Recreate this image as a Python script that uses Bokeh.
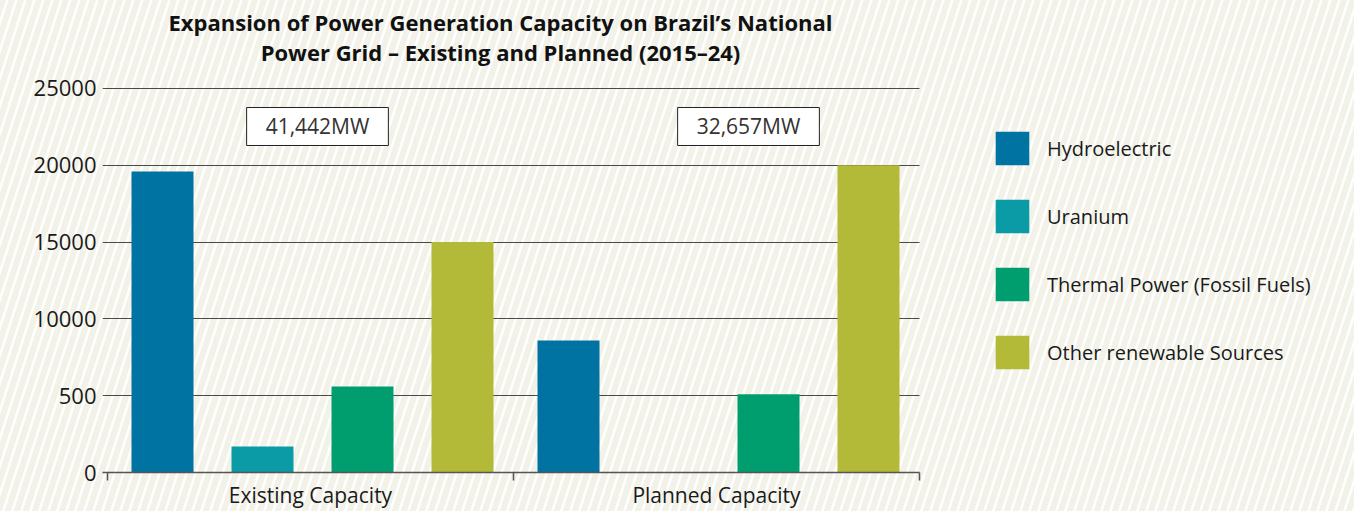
from bokeh.plotting import figure
from bokeh.models import Range1d, FixedTicker, Label, Legend, ColumnDataSource
from bokeh.embed import file_html
from bokeh.resources import INLINE

# ---- data ----
groups = ["Existing Capacity", "Planned Capacity"]
sources = ["Hydroelectric", "Uranium", "Thermal Power (Fossil Fuels)", "Other renewable Sources"]
hydro = [19600, 8600]
uranium = [1700, 0]
thermal = [5600, 5100]
other = [15000, 20000]
totals = ["41,442MW", "32,657MW"]
y_ticks = [0, 5000, 10000, 15000, 20000, 25000]
y_tick_labels = ["0", "500", "10000", "15000", "20000", "25000"]
colors = ["#0073A2", "#0A9BA7", "#009E6F", "#B3BA37"]
title_lines = ["Expansion of Power Generation Capacity on Brazil\u2019s National",
               "Power Grid \u2013 Existing and Planned (2015\u201324)"]

FONT = "Open Sans"
BG = "#F2F2E8"
GRID = "#4A4A4A"

# ---- layout helpers (units along x) ----
X0 = 0.05
GROUP_W = 4.06
BAR_OFF = 0.55
BAR_STEP = 1.0
BAR_W = 0.62
X_END = X0 + 2 * GROUP_W          # end of the plotted groups
X_MAX = 12.52                     # frame extends under the legend
Y_TOP = 30729                     # frame extends up under the title

p = figure(width=1354, height=511, output_backend="svg", toolbar_location=None,
           x_range=Range1d(0, X_MAX), y_range=Range1d(0, Y_TOP),
           min_border_left=102, min_border_top=0, min_border_bottom=39, min_border_right=0)
p.background_fill_alpha = 0
p.border_fill_alpha = 0
p.outline_line_color = None
p.styles = {
    "background-color": BG,
    "background-image": ("repeating-linear-gradient(108deg, "
                         "rgba(255,255,255,0) 0px, rgba(255,255,255,0) 5.4px, "
                         "rgba(255,255,255,0.95) 5.9px, rgba(255,255,255,0.95) 8.0px, "
                         "rgba(255,255,255,0) 8.56px)"),
}

# grid (limited to the bar area)
p.xgrid.grid_line_color = None
if hasattr(p.ygrid[0], "cross_bounds"):
    p.ygrid.ticker = FixedTicker(ticks=y_ticks[1:])
    p.ygrid.cross_bounds = (0, X_END)
    p.ygrid.grid_line_color = GRID
    p.ygrid.grid_line_width = 1.2
else:
    p.ygrid.grid_line_color = None
    gy = y_ticks[1:]
    p.segment(x0=[0] * len(gy), x1=[X_END] * len(gy), y0=gy, y1=gy,
              line_color=GRID, line_width=1.2, level="underlay")

# bars
series = [hydro, uranium, thermal, other]
renderers = []
for i, (name, vals, col) in enumerate(zip(sources, series, colors)):
    xs = [X0 + g * GROUP_W + BAR_OFF + i * BAR_STEP for g in range(len(groups))]
    src = ColumnDataSource(dict(x=xs, top=vals))
    r = p.vbar(x="x", top="top", width=BAR_W, source=src, fill_color=col, line_color=None)
    renderers.append((name, [r]))

# y axis
p.yaxis.ticker = FixedTicker(ticks=y_ticks)
p.yaxis.major_label_overrides = {t: l for t, l in zip(y_ticks, y_tick_labels)}
p.yaxis.axis_line_color = None
p.yaxis.major_tick_line_color = None
p.yaxis.minor_tick_line_color = None
p.yaxis.major_tick_out = 0
p.yaxis.major_label_standoff = 6
p.yaxis.major_label_text_font = FONT
p.yaxis.major_label_text_font_size = "22px"
p.yaxis.major_label_text_color = "#1A1A1A"

# x axis: labels at group centres, minor ticks at group boundaries
bounds = [X0 + g * GROUP_W for g in range(len(groups) + 1)]
centers = [X0 + g * GROUP_W + GROUP_W / 2 for g in range(len(groups))]
p.xaxis.ticker = FixedTicker(ticks=centers, minor_ticks=bounds)
p.xaxis.bounds = (0, X_END)
p.xaxis.major_label_overrides = {c: g for c, g in zip(centers, groups)}
p.xaxis.axis_line_color = "#555555"
p.xaxis.axis_line_width = 1.5
p.xaxis.minor_tick_line_color = "#555555"
p.xaxis.minor_tick_line_width = 1.5
p.xaxis.minor_tick_out = 8
p.xaxis.minor_tick_in = 0
p.xaxis.major_tick_line_color = None
p.xaxis.major_tick_out = 0
p.xaxis.major_tick_in = 0
p.xaxis.major_label_standoff = 0
p.xaxis.major_label_text_font = FONT
p.xaxis.major_label_text_font_size = "21px"
p.xaxis.major_label_text_color = "#1A1A1A"

# totals boxes
tot_x = [2.15, 6.46]
for tx, txt in zip(tot_x, totals):
    p.add_layout(Label(x=tx, y=22526, text=txt, text_align="center", text_baseline="middle",
                       text_font=FONT, text_font_size="21px", text_color="#333333",
                       background_fill_color="white", border_line_color="#222222",
                       border_line_width=1,
                       padding=dict(left=19, right=19, top=5, bottom=5)))

# title
for ty, line in zip([29297, 27344], title_lines):
    p.add_layout(Label(x=3.98, y=ty, text=line, text_align="center", text_baseline="middle",
                       text_font=FONT, text_font_size="22px", text_font_style="bold",
                       text_color="#111111"))

# legend (inside the extended frame, right of the groups)
lg = Legend(items=renderers, location=(889, 99), orientation="vertical",
            glyph_width=42, glyph_height=42, spacing=26, label_standoff=14,
            padding=0, margin=0, border_line_color=None, background_fill_alpha=0,
            label_text_font=FONT, label_text_font_size="20px", label_text_color="#1A1A1A")
p.add_layout(lg)

open("out.html", "w").write(file_html(p, INLINE))
